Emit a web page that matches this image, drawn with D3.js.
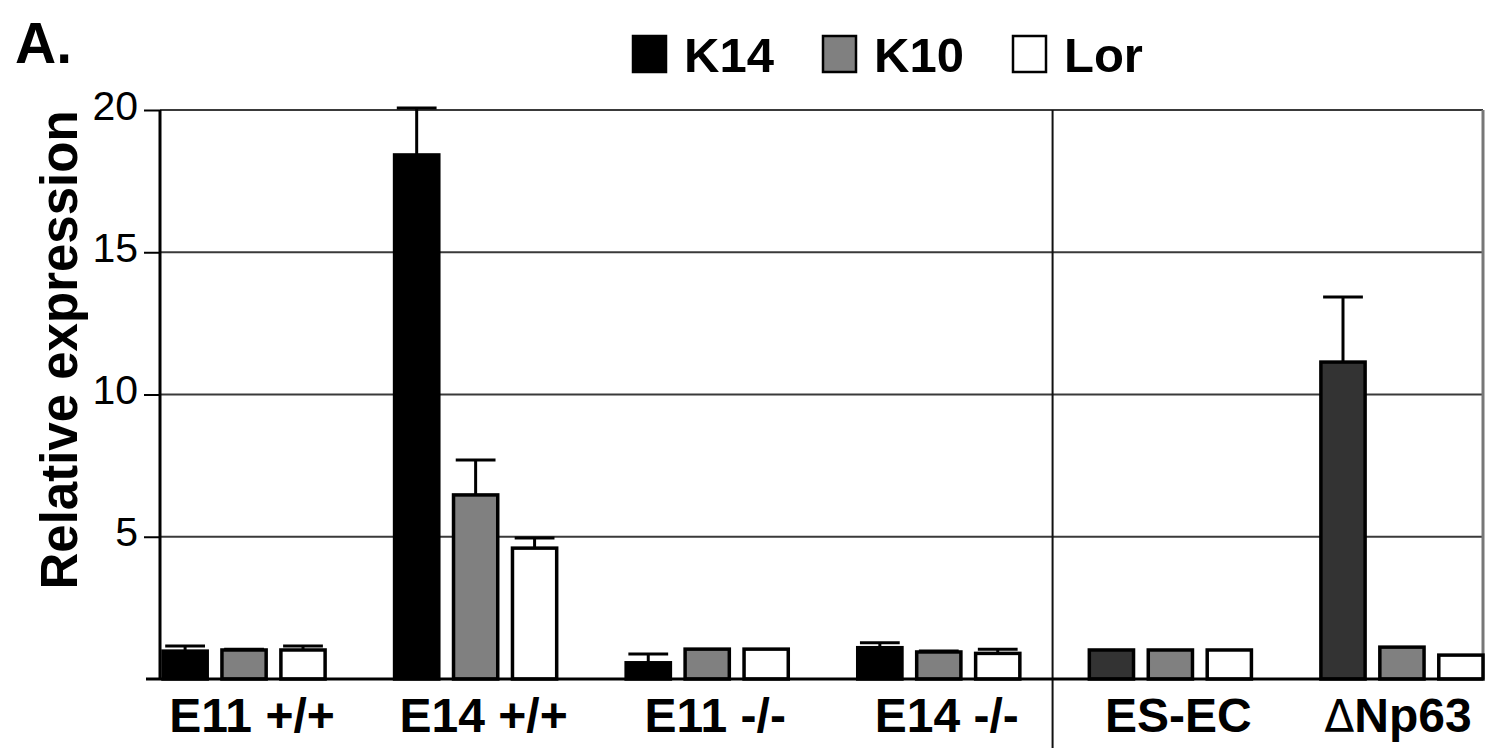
<!DOCTYPE html>
<html>
<head>
<meta charset="utf-8">
<script src="https://cdn.jsdelivr.net/npm/d3@7"></script>
<style>
  html, body { margin: 0; padding: 0; background: #fff; }
  svg { display: block; }
  text { font-family: "Liberation Sans", Arial, sans-serif; }
</style>
</head>
<body>
<svg id="chart" width="1487" height="748"></svg>
<script>
// ---- data ----
const categories = ["E11 +/+", "E14 +/+", "E11 -/-", "E14 -/-", "ES-EC", "ΔNp63"];
const seriesNames = ["K14", "K10", "Lor"];
const k14 = [0.98, 18.42, 0.57, 1.10, 1.02, 11.14];
const k14Err = [0.18, 1.65, 0.31, 0.17, 0, 2.29];
const k10 = [1.02, 6.47, 1.05, 0.95, 1.02, 1.12];
const k10Err = [0.03, 1.23, 0, 0.03, 0, 0];
const lor = [1.02, 4.60, 1.05, 0.90, 1.02, 0.84];
const lorErr = [0.14, 0.36, 0, 0.15, 0, 0];
const yTicks = [5, 10, 15, 20];
const cellLineGroups = ["ES-EC", "ΔNp63"];

const seriesValues = [k14, k10, lor];
const seriesErrors = [k14Err, k10Err, lorErr];

(function draw() {
// ---- layout ----
const svg = d3.select("#chart");
const pLeft = 160, pRight = 1483, pTop = 110, pBottom = 679;

const x0 = d3.scaleBand().domain(categories).range([163, 1483]).paddingInner(0.3).paddingOuter(0);
const x1 = d3.scaleBand().domain(seriesNames).range([0, x0.bandwidth()]).paddingInner(0.25).paddingOuter(0);
const y = d3.scaleLinear().domain([0, 20]).range([pBottom, pTop]);

function fillFor(series, cat) {
  if (series === "K14") return cellLineGroups.includes(cat) ? "#333333" : "#000000";
  if (series === "K10") return "#808080";
  return "#ffffff";
}

// gridlines
svg.append("g").selectAll("line").data(yTicks).join("line")
  .attr("x1", pLeft).attr("x2", pRight)
  .attr("y1", d => y(d)).attr("y2", d => y(d))
  .attr("stroke", "#3a3a3a").attr("stroke-width", 2);

// right border
svg.append("line").attr("x1", pRight).attr("x2", pRight).attr("y1", y(20)).attr("y2", y(0))
  .attr("stroke", "#777").attr("stroke-width", 3);

// divider between groups
const divX = (x0("E14 -/-") + x0.bandwidth() + x0("ES-EC")) / 2 - 2;
svg.append("line").attr("x1", divX).attr("x2", divX).attr("y1", y(20)).attr("y2", 748)
  .attr("stroke", "#111").attr("stroke-width", 2);

// bars
const rows = [];
categories.forEach((c, i) => {
  seriesNames.forEach((s, j) => {
    rows.push({ cat: c, series: s, value: seriesValues[j][i], err: seriesErrors[j][i] });
  });
});

// error bars (drawn before bars so the bar top covers the stem)
const eb = svg.append("g");
rows.filter(d => d.err > 0).forEach(d => {
  const cx = x0(d.cat) + x1(d.series) + x1.bandwidth() / 2;
  const capW = x1.bandwidth() * 0.9;
  eb.append("line").attr("x1", cx).attr("x2", cx)
    .attr("y1", y(d.value)).attr("y2", y(d.value + d.err))
    .attr("stroke", "#000").attr("stroke-width", 3);
  eb.append("line").attr("x1", cx - capW / 2).attr("x2", cx + capW / 2)
    .attr("y1", y(d.value + d.err)).attr("y2", y(d.value + d.err))
    .attr("stroke", "#000").attr("stroke-width", 3);
});

svg.append("g").selectAll("rect").data(rows).join("rect")
  .attr("x", d => x0(d.cat) + x1(d.series))
  .attr("width", x1.bandwidth())
  .attr("y", d => y(d.value))
  .attr("height", d => y(0) - y(d.value))
  .attr("fill", d => fillFor(d.series, d.cat))
  .attr("stroke", "#000").attr("stroke-width", 3.5);

// y axis
const yAxis = d3.axisLeft(y).tickValues(yTicks).tickSize(16).tickPadding(6).tickFormat(d3.format("d"));
const ya = svg.append("g").attr("transform", `translate(${pLeft},0)`).call(yAxis);
ya.select(".domain").remove();
ya.selectAll(".tick line").attr("stroke", "#000").attr("stroke-width", 2);
ya.selectAll(".tick text").attr("font-size", 41).attr("fill", "#000")
  .attr("dy", null).attr("y", 9).attr("font-family", "Liberation Sans, Arial, sans-serif");

// axis lines
svg.append("line").attr("x1", pLeft).attr("x2", pLeft).attr("y1", y(20)).attr("y2", y(0))
  .attr("stroke", "#000").attr("stroke-width", 3);
svg.append("line").attr("x1", 146).attr("x2", pRight).attr("y1", y(0)).attr("y2", y(0))
  .attr("stroke", "#000").attr("stroke-width", 3);

// x labels
const xl = svg.append("g");
categories.forEach(c => {
  const t = xl.append("text")
    .attr("x", x0(c) + x0.bandwidth() / 2 + 8)
    .attr("y", 732)
    .attr("text-anchor", "middle")
    .attr("font-size", 48).attr("font-weight", "bold").attr("fill", "#000");
  if (c.startsWith("Δ")) {
    t.attr("x", x0(c) + x0.bandwidth() / 2 - 4);
    t.append("tspan").attr("font-weight", "normal").attr("font-family", "DejaVu Sans, sans-serif").attr("font-size", 44).text("Δ");
    t.append("tspan").text(c.slice(1));
  } else {
    t.text(c);
  }
});

// y label
svg.append("text")
  .attr("transform", "translate(77,350) rotate(-90)")
  .attr("text-anchor", "middle")
  .attr("font-size", 51).attr("font-weight", "bold").attr("fill", "#000")
  .text("Relative expression");

// panel letter
svg.append("text").attr("x", 15).attr("y", 63)
  .attr("font-size", 57).attr("font-weight", "bold").attr("fill", "#000").text("A.");

// legend
const legendStart = 633, legendStep = 190;
const lg = svg.append("g");
seriesNames.forEach((s, j) => {
  const lx = legendStart + j * legendStep;
  lg.append("rect").attr("x", lx).attr("y", 36).attr("width", 33).attr("height", 36)
    .attr("fill", fillFor(s, "")).attr("stroke", "#000").attr("stroke-width", 2.5);
  lg.append("text").attr("x", lx + 51).attr("y", 72)
    .attr("font-size", 49).attr("font-weight", "bold").attr("fill", "#000").text(s);
});
})();
</script>
</body>
</html>
